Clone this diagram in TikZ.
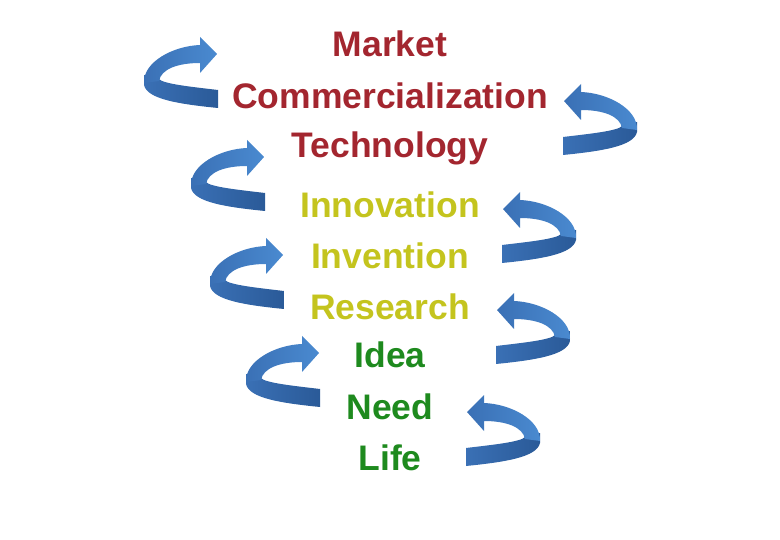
\documentclass[tikz,border=0pt]{standalone}
\usepackage{fontspec}
\setmainfont{Liberation Sans}
\usepackage{tikz}
\definecolor{CA3262F}{HTML}{A3262F}
\definecolor{CC4C41E}{HTML}{C4C41E}
\definecolor{C1E8A1E}{HTML}{1E8A1E}
\definecolor{C4A8AD0}{HTML}{4A8AD0}
\definecolor{C3A70B5}{HTML}{3A70B5}
\definecolor{C2A5A98}{HTML}{2A5A98}

\begin{document}
\begin{tikzpicture}[x=1pt,y=-1pt,
  word/.style={anchor=base,inner sep=0pt,font=\bfseries\fontsize{35.5}{40}\selectfont},
  curl/.pic={
    % back part of the ribbon
    \path [left color=C3A70B5,right color=C2A5A98] (1,38) -- (1,48) .. controls (4,62) and (35,67) .. (75,71) -- (75,53) .. controls (50,50) and (20,47) .. (16,42) -- cycle;
    % front part with the head
    \path [left color=C3A70B5,right color=C4A8AD0] (1,46) .. controls (0,25) and (30,9) .. (57,8) -- (57,0) -- (74,17) -- (57,36) -- (57,26) .. controls (35,26) and (18,32) .. (16,44) -- cycle;
  }]
\useasboundingbox (0,0) rectangle (780,540);

\node (n0) [word,text=CA3262F,at={(390,57)}] {Market};
\node (n1) [word,text=CA3262F,at={(390,109)}] {Commercialization};
\node (n2) [word,text=CA3262F,at={(390,158)}] {Technology};
\node (n3) [word,text=CC4C41E,at={(390,218)}] {Innovation};
\node (n4) [word,text=CC4C41E,at={(390,269)}] {Invention};
\node (n5) [word,text=CC4C41E,at={(390,320)}] {Research};
\node (n6) [word,text=C1E8A1E,at={(390,368)}] {Idea};
\node (n7) [word,text=C1E8A1E,at={(390,420)}] {Need};
\node (n8) [word,text=C1E8A1E,at={(390,470)}] {Life};

\pic at (143,37) {curl};
\pic at (190,140) {curl};
\pic at (209,238) {curl};
\pic at (245,336) {curl};

\pic [xscale=-1] at (638,84) {curl};
\pic [xscale=-1] at (577,192) {curl};
\pic [xscale=-1] at (571,293) {curl};
\pic [xscale=-1] at (541,395) {curl};
\end{tikzpicture}
\end{document}
